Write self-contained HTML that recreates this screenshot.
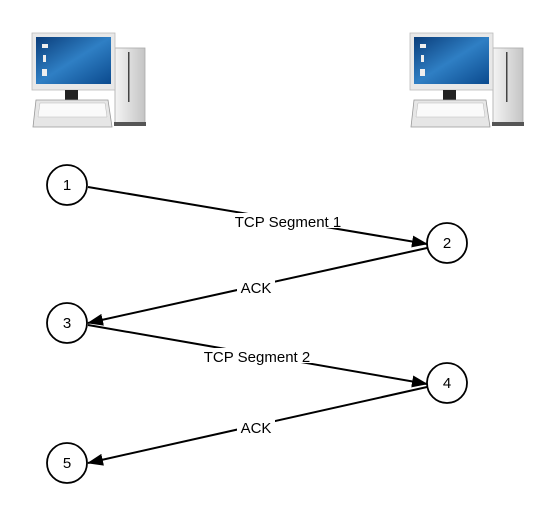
<!DOCTYPE html>
<html><head><style>body{margin:0;background:#fff}svg{display:block}</style></head><body>
<svg width="551" height="508" viewBox="0 0 551 508" xmlns="http://www.w3.org/2000/svg">
<defs>
<linearGradient id="scr" x1="0" y1="0" x2="1" y2="1"><stop offset="0" stop-color="#0a3d7a"/><stop offset="0.5" stop-color="#2f7fc4"/><stop offset="1" stop-color="#0b4a8e"/></linearGradient>
<linearGradient id="tw" x1="0" y1="0" x2="1" y2="0"><stop offset="0" stop-color="#f4f4f4"/><stop offset="1" stop-color="#c4c4c4"/></linearGradient>
<g id="pc">
<rect x="115" y="48" width="30" height="76" fill="url(#tw)" stroke="#aaa" stroke-width="0.8"/>
<rect x="128" y="52" width="1.5" height="50" fill="#444"/>
<rect x="114" y="122" width="32" height="4" fill="#555"/>
<rect x="32" y="33" width="83" height="57" fill="#e8e8e8" stroke="#bbb" stroke-width="0.8"/>
<rect x="36" y="37" width="75" height="47" fill="url(#scr)"/>
<rect x="42" y="44" width="6" height="4" fill="#eee"/><rect x="43" y="55" width="3" height="7" fill="#eee"/><rect x="42" y="69" width="5" height="7" fill="#eee"/>
<rect x="65" y="90" width="13" height="10" fill="#222"/>
<path d="M36 100 L108 100 L112 127 L33 127 Z" fill="#e6e6e6" stroke="#999" stroke-width="0.8"/>
<path d="M40 103 L105 103 L107 117 L38 117 Z" fill="#fafafa" stroke="#bbb" stroke-width="0.5"/>
</g>
<marker id="ah" markerWidth="16" markerHeight="12" refX="15" refY="6" orient="auto" markerUnits="userSpaceOnUse"><path d="M0 0 L16 6 L0 12 Z" fill="#000"/></marker>
</defs>
<use href="#pc" x="0" y="0"/>
<use href="#pc" x="378" y="0"/>
<g stroke="#000" stroke-width="2" fill="none">
<line x1="88" y1="187" x2="427" y2="244" marker-end="url(#ah)"/>
<line x1="427" y1="248" x2="88" y2="323" marker-end="url(#ah)"/>
<line x1="88" y1="325" x2="427" y2="384" marker-end="url(#ah)"/>
<line x1="427" y1="387" x2="88" y2="463" marker-end="url(#ah)"/>
</g>
<g stroke="#000" stroke-width="1.8" fill="#fff">
<circle cx="67" cy="185" r="20"/><circle cx="447" cy="243" r="20"/><circle cx="67" cy="323" r="20"/><circle cx="447" cy="383" r="20"/><circle cx="67" cy="463" r="20"/>
</g>
<g font-family="Liberation Sans, sans-serif" font-size="15" text-anchor="middle">
<text x="67" y="190">1</text><text x="447" y="248">2</text><text x="67" y="328">3</text><text x="447" y="388">4</text><text x="67" y="468">5</text>
<rect x="223" y="213" width="130" height="15" fill="#fff"/><text x="288" y="227">TCP Segment 1</text>
<rect x="237" y="279" width="38" height="15" fill="#fff"/><text x="256" y="293">ACK</text>
<rect x="193" y="348" width="128" height="15" fill="#fff"/><text x="257" y="362">TCP Segment 2</text>
<rect x="237" y="419" width="38" height="15" fill="#fff"/><text x="256" y="433">ACK</text>
</g>
</svg>
</body></html>
